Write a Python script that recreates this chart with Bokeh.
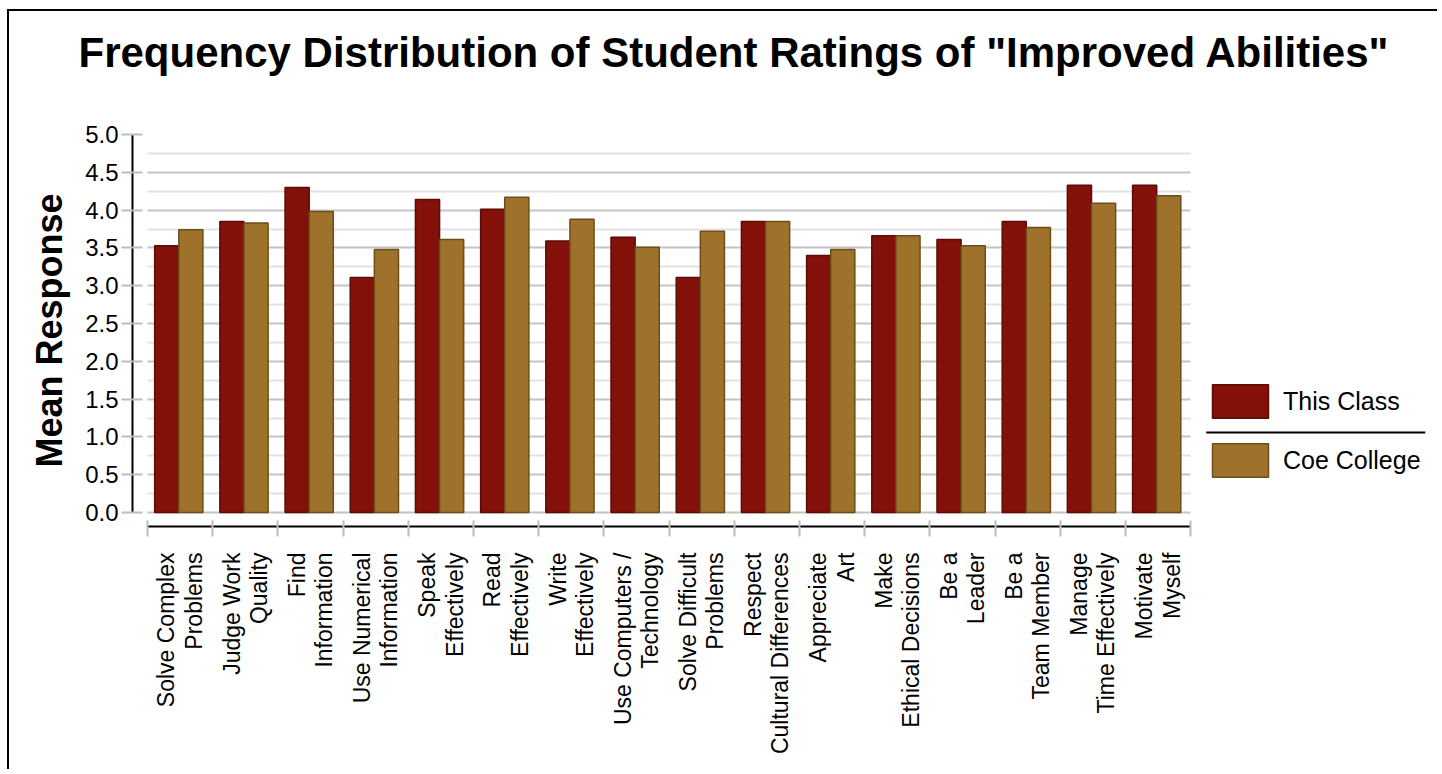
import math
from bokeh.plotting import figure
from bokeh.models import ColumnDataSource, FixedTicker, Legend, LegendItem, NumeralTickFormatter, Title
from bokeh.embed import file_html
from bokeh.resources import INLINE

# ---- data ----
title_text = 'Frequency Distribution of Student Ratings of "Improved Abilities"'
categories = [
    "Solve Complex\nProblems", "Judge Work\nQuality", "Find\nInformation",
    "Use Numerical\nInformation", "Speak\nEffectively", "Read\nEffectively",
    "Write\nEffectively", "Use Computers /\nTechnology", "Solve Difficult\nProblems",
    "Respect\nCultural Differences", "Appreciate\nArt", "Make\nEthical Decisions",
    "Be a\nLeader", "Be a\nTeam Member", "Manage\nTime Effectively", "Motivate\nMyself",
]
this_class = [3.53, 3.85, 4.30, 3.11, 4.14, 4.01, 3.59, 3.64, 3.11, 3.85, 3.40, 3.66, 3.61, 3.85, 4.33, 4.33]
coe_college = [3.74, 3.83, 3.98, 3.48, 3.61, 4.17, 3.88, 3.51, 3.72, 3.85, 3.48, 3.66, 3.53, 3.77, 4.09, 4.19]
series_names = ["This Class", "Coe College"]
y_ticks = [0.0, 0.5, 1.0, 1.5, 2.0, 2.5, 3.0, 3.5, 4.0, 4.5, 5.0]
y_minor = [0.25, 0.75, 1.25, 1.75, 2.25, 2.75, 3.25, 3.75, 4.25, 4.75]

RED, RED_LINE = "#84100a", "#5c0b06"
GOLD, GOLD_LINE = "#9f722b", "#6b4e1b"
FONT = "Liberation Sans"

n = len(categories)
idx = list(range(n))
src = ColumnDataSource(dict(
    xr=[i + 0.295 for i in idx],
    xg=[i + 0.665 for i in idx],
    a=this_class,
    b=coe_college,
))

p = figure(
    width=1430, height=760, title=None,
    x_range=(-0.23, 19.68), y_range=(-0.185, 5.0),
    output_backend="svg", toolbar_location=None,
    min_border_left=123, min_border_right=9, min_border_top=123, min_border_bottom=245,
)
p.styles = {"margin-left": "7px", "margin-top": "9px",
            "border-left": "2px solid black", "border-top": "2px solid black"}
p.outline_line_color = None

r1 = p.vbar(x="xr", top="a", bottom=0, width=0.37, source=src,
            fill_color=RED, line_color=RED_LINE, line_width=1.5)
r2 = p.vbar(x="xg", top="b", bottom=0, width=0.37, source=src,
            fill_color=GOLD, line_color=GOLD_LINE, line_width=1.5)

# title: a thin spacer panel next to the frame, then the title above it
spacer = Title(text=" ", text_font_size="1px", standoff=56)
p.add_layout(spacer, "above")
main_title = Title(text=title_text, text_font=FONT, text_font_size="42px",
                   text_font_style="bold", text_color="black",
                   align="left", offset=-54, standoff=0)
p.add_layout(main_title, "above")

# y axis
yax = p.yaxis[0]
yax.ticker = FixedTicker(ticks=y_ticks, minor_ticks=y_minor)
yax.formatter = NumeralTickFormatter(format="0.0")
yax.bounds = (0, 5)
yax.axis_line_color = "black"
yax.axis_line_width = 2
yax.major_tick_line_color = "#bdbdbd"
yax.major_tick_line_width = 2
yax.major_tick_in = 10
yax.major_tick_out = 11
yax.minor_tick_line_color = None
yax.major_label_standoff = 3
yax.major_label_text_font = FONT
yax.major_label_text_font_size = "24px"
yax.major_label_text_color = "black"
yax.axis_label = "Mean Response"
yax.axis_label_text_font = FONT
yax.axis_label_text_font_size = "36px"
yax.axis_label_text_font_style = "bold"
yax.axis_label_text_color = "black"
yax.axis_label_standoff = 12

# x axis
xax = p.xaxis[0]
xax.ticker = FixedTicker(ticks=[i + 0.5 for i in idx], minor_ticks=list(range(n + 1)))
xax.major_label_overrides = {i + 0.5: categories[i] for i in idx}
xax.bounds = (0, n)
xax.axis_line_color = "black"
xax.axis_line_width = 2
xax.major_tick_line_color = None
xax.major_tick_in = 0
xax.major_tick_out = 0
xax.minor_tick_line_color = "#bdbdbd"
xax.minor_tick_line_width = 2
xax.minor_tick_in = 6
xax.minor_tick_out = 10
xax.major_label_orientation = math.pi / 2
xax.major_label_standoff = 16
xax.major_label_text_font = FONT
xax.major_label_text_font_size = "23px"
xax.major_label_text_color = "black"
xax.major_label_text_line_height = 1.05

# grids
p.xgrid.visible = False
p.ygrid.ticker = FixedTicker(ticks=y_ticks, minor_ticks=y_minor)
p.ygrid.grid_line_color = "#c4c4c4"
p.ygrid.grid_line_width = 2
p.ygrid.minor_grid_line_color = "#e2e2e2"
p.ygrid.minor_grid_line_width = 2
p.ygrid.cross_bounds = (0, n)
p.ygrid.level = "underlay"

# legend
legend = Legend(
    items=[LegendItem(label=series_names[0], renderers=[r1]),
           LegendItem(label=series_names[1], renderers=[r2])],
    location=(1073, 45), orientation="vertical",
    glyph_width=70, glyph_height=42, spacing=17, padding=0, margin=0,
    label_standoff=8, label_text_font=FONT, label_text_font_size="25px",
    label_text_color="black",
    border_line_color=None, background_fill_alpha=0,
)
p.add_layout(legend, "center")

# legend separator line
sep_x = [16.24, 19.6]
sep_y = 1.058
p.line(x=sep_x, y=[sep_y, sep_y], line_color="black", line_width=2)

open("out.html", "w").write(file_html(p, INLINE))
